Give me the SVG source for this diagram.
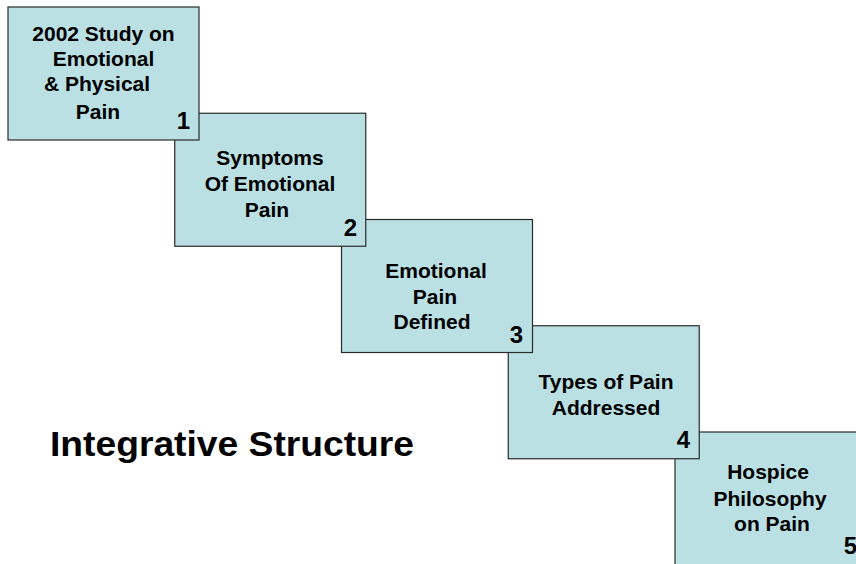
<svg xmlns="http://www.w3.org/2000/svg" width="856" height="564" viewBox="0 0 856 564">
<style>
.box{fill:#BBE0E3;stroke:#2a2a2a;stroke-width:1.2}
.t{font-family:"Liberation Sans",Arial,sans-serif;font-weight:bold;font-size:21px;fill:#000;text-anchor:middle}
.n{font-family:"Liberation Sans",Arial,sans-serif;font-weight:bold;font-size:24px;fill:#000;text-anchor:end}
.title{font-family:"Liberation Sans",Arial,sans-serif;font-weight:bold;font-size:35px;fill:#000}
</style>
<rect width="856" height="564" fill="#fff"/>
<g id="connectors"></g>
<g id="node5">
<rect class="box" x="675" y="432" width="191" height="133"/>
<text class="t" x="768" y="479">Hospice</text>
<text class="t" x="770" y="506">Philosophy</text>
<text class="t" x="772" y="531">on Pain</text>
<text class="n" x="857" y="554">5</text>
</g>
<g id="node4">
<rect class="box" x="508.25" y="325.75" width="191" height="133"/>
<text class="t" x="606" y="389">Types of Pain</text>
<text class="t" x="606" y="415">Addressed</text>
<text class="n" x="690" y="448">4</text>
</g>
<g id="node3">
<rect class="box" x="341.5" y="219.5" width="191" height="133"/>
<text class="t" x="436" y="278">Emotional</text>
<text class="t" x="435" y="304">Pain</text>
<text class="t" x="432" y="329">Defined</text>
<text class="n" x="523" y="343">3</text>
</g>
<g id="node2">
<rect class="box" x="174.75" y="113.25" width="191" height="133"/>
<text class="t" x="270" y="165">Symptoms</text>
<text class="t" x="270" y="191">Of Emotional</text>
<text class="t" x="267" y="217">Pain</text>
<text class="n" x="357" y="236">2</text>
</g>
<g id="node1">
<rect class="box" x="8" y="7" width="191" height="133"/>
<text class="t" x="103.5" y="41">2002 Study on</text>
<text class="t" x="103.5" y="66">Emotional</text>
<text class="t" x="97" y="91">&amp; Physical</text>
<text class="t" x="98" y="119">Pain</text>
<text class="n" x="190" y="129">1</text>
</g>
<g id="title">
<text class="title" x="50" y="456" textLength="364" lengthAdjust="spacingAndGlyphs">Integrative Structure</text>
</g>
</svg>
